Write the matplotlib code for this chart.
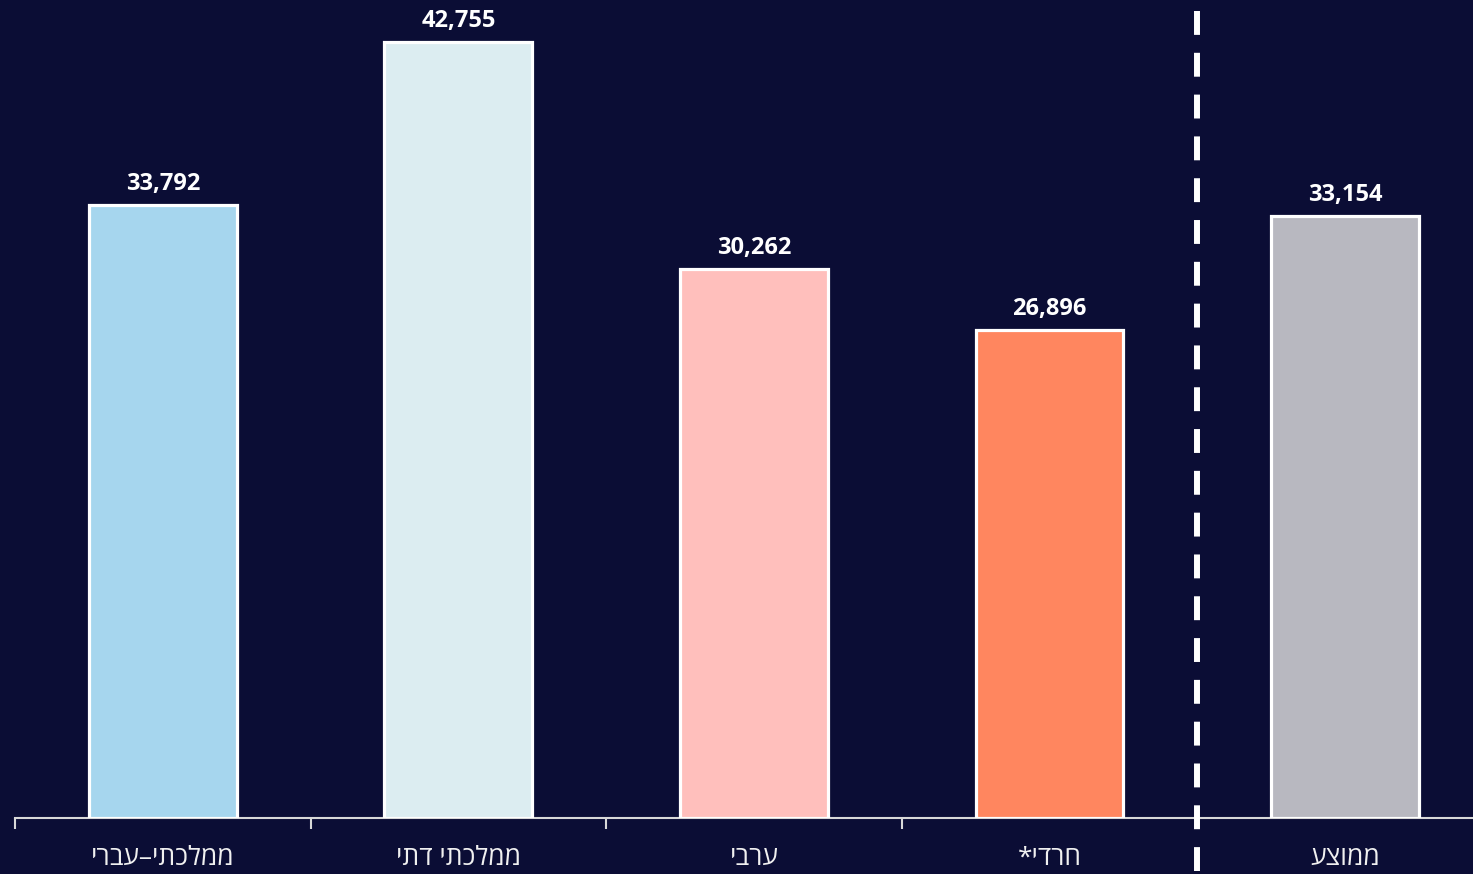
import matplotlib.pyplot as plt
import matplotlib.transforms as mtransforms

# Data
categories = ["ממלכתי–עברי", "ממלכתי דתי", "ערבי", "חרדי*", "ממוצע"]
values = [33792, 42755, 30262, 26896, 33154]
colors = ["#a6d6ee", "#dcedf1", "#ffbfbc", "#ff865f", "#b8b8c0"]

bg = "#0b0d35"
plt.rcParams["font.family"] = ["Open Sans", "DejaVu Sans"]


def rtl(s):
    # matplotlib has no bidi support, reverse Hebrew for display
    return s[::-1]


fig = plt.figure(figsize=(14.73, 8.74), dpi=100, facecolor=bg)
ax = fig.add_axes([15 / 1473, 56 / 874, 1 - 15 / 1473, 818 / 874])
ax.set_facecolor(bg)

x = list(range(len(categories)))
ax.bar(x, values, width=0.5, color=colors, edgecolor="white", linewidth=2.3, zorder=3)

for xi, v in zip(x, values):
    ax.text(xi, v + 500, f"{v:,}", ha="center", va="bottom", color="white",
            fontsize=17, fontweight="bold")

ax.set_xlim(-0.5, 4.433)
ax.set_ylim(0, 45070)

for side in ["top", "right", "left"]:
    ax.spines[side].set_visible(False)
ax.spines["bottom"].set_color("#d8d8d8")
ax.spines["bottom"].set_linewidth(1.5)

ax.set_yticks([])
ax.set_xticks(x)
ax.set_xticklabels([rtl(c) for c in categories], color="#f0f0f0", fontsize=19)
ax.tick_params(axis="x", which="major", length=0, pad=20)
ax.set_xticks([-0.5, 0.5, 1.5, 2.5], minor=True)
ax.tick_params(axis="x", which="minor", length=8, width=1.5, color="#d8d8d8")

# separator before the average
trans = mtransforms.blended_transform_factory(ax.transData, ax.transAxes)
ax.plot([3.5, 3.5], [1 - 11 / 818, -56 / 818], transform=trans, color="white",
        linewidth=4.3, dashes=(4, 3), clip_on=False, zorder=4)

fig.savefig("out.png", dpi=100, facecolor=bg)
